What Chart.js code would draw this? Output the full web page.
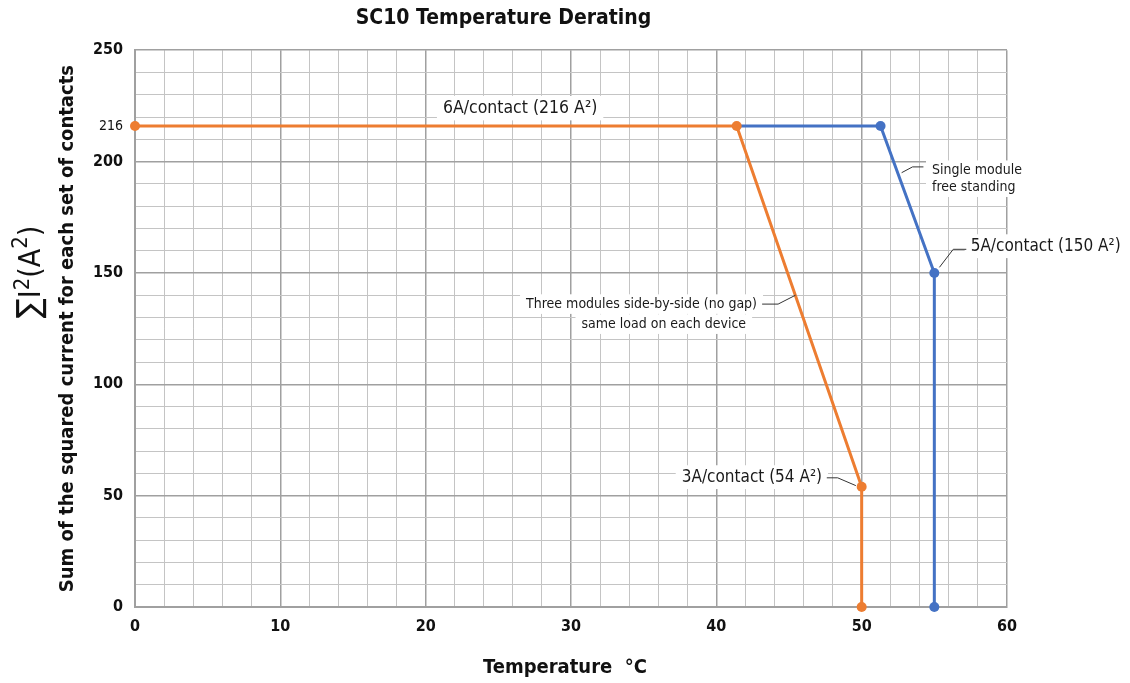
<!DOCTYPE html>
<html lang="en">
<head>
<meta charset="UTF-8" />
<title>SC10 Temperature Derating</title>
<style>
  body { margin: 0; background: #ffffff; }
  #wrap { width: 1130px; height: 683px; }
</style>
<script src="https://cdn.jsdelivr.net/npm/chart.js"></script>
</head>
<body>
<div id="wrap"><canvas id="derating"></canvas></div>
<script>
const FONT = "'Liberation Sans Narrow', 'Arial Narrow', 'DejaVu Sans Condensed', sans-serif";

// temperature (°C) vs sum of I² (A²)
const threeModTemp = [0, 41.4, 50, 50];
const threeModLoad = [216, 216, 54, 0];
const singleModTemp = [41.4, 51.3, 55, 55];
const singleModLoad = [216, 216, 150, 0];

const yLabelTicks = [0, 50, 100, 150, 200, 250];
const extraTick = 216;

// callouts, anchored in data units
const notes = [
  { lines: ['6A/contact (216 A²)'], x: [26.5], y: [224], align: 'center', size: 17.5, leader: [] },
  { lines: ['Single module', 'free standing'], x: [54.84, 54.84], y: [196.1, 188.5], align: 'left', size: 14,
    leader: [[52.75, 195], [53.5, 197.6], [54.25, 197.6]] },
  { lines: ['5A/contact (150 A²)'], x: [57.5], y: [162], align: 'left', size: 17,
    leader: [[55.35, 152.5], [56.3, 160.6], [57.2, 160.6]] },
  { lines: ['Three modules side-by-side (no gap)', 'same load on each device'], x: [42.8, 42.05], y: [136, 127], align: 'right', size: 14,
    leader: [[43.15, 136], [44.25, 136], [45.45, 140]] },
  { lines: ['3A/contact (54 A²)'], x: [47.27], y: [58.3], align: 'right', size: 17,
    leader: [[47.6, 58], [48.35, 58], [49.6, 54.5]] }
];

// pieces of the Σ I²(A²) axis label: text, size, raise
const sigmaLabel = [['∑', 33, 0], ['I', 30, 0], ['2', 22, 11], ['(A', 30, 0], ['2', 22, 13], [')', 30, 0]];

const toPts = (xs, ys) => xs.map((x, i) => ({ x: x, y: ys[i] }));

const notesPlugin = {
  id: 'notes',
  afterDatasetsDraw(chart) {
    const { ctx, scales: { x, y } } = chart;
    ctx.save();
    notes.forEach(n => {
      ctx.font = n.size + 'px ' + FONT;
      ctx.textAlign = n.align;
      ctx.textBaseline = 'middle';
      // white box behind the text
      n.lines.forEach((t, i) => {
        const px = x.getPixelForValue(n.x[i]);
        const py = y.getPixelForValue(n.y[i]);
        const w = ctx.measureText(t).width;
        let left = px;
        if (n.align === 'center') left = px - w / 2;
        if (n.align === 'right') left = px - w;
        ctx.fillStyle = '#ffffff';
        ctx.fillRect(left - 6, py - n.size * 0.7, w + 12, n.size * 1.4);
      });
      n.lines.forEach((t, i) => {
        ctx.fillStyle = '#1a1a1a';
        ctx.fillText(t, x.getPixelForValue(n.x[i]), y.getPixelForValue(n.y[i]));
      });
      if (n.leader.length) {
        ctx.strokeStyle = '#333333';
        ctx.lineWidth = 1;
        ctx.beginPath();
        n.leader.forEach((p, i) => {
          const px = x.getPixelForValue(p[0]), py = y.getPixelForValue(p[1]);
          if (i === 0) ctx.moveTo(px, py); else ctx.lineTo(px, py);
        });
        ctx.stroke();
      }
    });
    ctx.restore();
  },
  afterDraw(chart) {
    const { ctx, chartArea } = chart;
    const midY = (chartArea.top + chartArea.bottom) / 2;
    ctx.save();
    ctx.fillStyle = '#111111';
    ctx.textAlign = 'center';
    ctx.textBaseline = 'middle';
    ctx.font = 'bold 20px ' + FONT;
    ctx.fillText('Temperature  °C', 565, 668);

    ctx.translate(68, midY);
    ctx.rotate(-Math.PI / 2);
    ctx.font = 'bold 20px ' + FONT;
    ctx.fillText('Sum of the squared current for each set of contacts', 0, 0);
    ctx.restore();

    // Σ I²(A²) with real superscripts
    ctx.save();
    ctx.fillStyle = '#111111';
    ctx.translate(40, 272);
    ctx.rotate(-Math.PI / 2);
    ctx.textAlign = 'left';
    ctx.textBaseline = 'alphabetic';
    let total = 0;
    sigmaLabel.forEach(p => { ctx.font = p[1] + 'px ' + FONT; total += ctx.measureText(p[0]).width; });
    let cx = -total / 2;
    sigmaLabel.forEach(p => {
      ctx.font = p[1] + 'px ' + FONT;
      ctx.fillText(p[0], cx, -p[2]);
      cx += ctx.measureText(p[0]).width;
    });
    ctx.restore();
  }
};

new Chart(document.getElementById('derating'), {
  type: 'line',
  data: {
    datasets: [
      {
        label: 'Three modules side-by-side (no gap)',
        data: toPts(threeModTemp, threeModLoad),
        borderColor: '#ed7d31',
        backgroundColor: '#ed7d31',
        borderWidth: 3,
        pointRadius: 5,
        pointBorderWidth: 0,
        tension: 0,
        clip: false
      },
      {
        label: 'Single module free standing',
        data: toPts(singleModTemp, singleModLoad),
        borderColor: '#4472c4',
        backgroundColor: '#4472c4',
        borderWidth: 3,
        pointRadius: [0, 5, 5, 5],
        pointBorderWidth: 0,
        tension: 0,
        clip: false
      }
    ]
  },
  options: {
    responsive: true,
    maintainAspectRatio: false,
    animation: false,
    layout: { padding: { left: 0, right: 123, top: 0, bottom: 0 } },
    plugins: {
      legend: { display: false },
      tooltip: { enabled: false },
      title: {
        display: true,
        text: 'SC10 Temperature Derating',
        color: '#111111',
        font: { family: FONT, size: 21, weight: 'bold' },
        padding: { top: 6, bottom: 19 }
      }
    },
    scales: {
      x: {
        type: 'linear',
        min: 0,
        max: 60,
        afterFit: s => { s.height = 76; },
        ticks: {
          stepSize: 2,
          autoSkip: false,
          maxRotation: 0,
          padding: 10,
          color: '#111111',
          font: { family: FONT, size: 16, weight: 'bold' },
          callback: v => (v % 10 === 0 ? v : '')
        },
        grid: {
          drawTicks: false,
          color: c => (c.tick && c.tick.value % 10 === 0 ? '#a0a0a0' : '#c4c4c4'),
          lineWidth: c => (c.tick && c.tick.value % 10 === 0 ? 1.5 : 1)
        },
        border: { color: '#a0a0a0', width: 2 }
      },
      y: {
        type: 'linear',
        min: 0,
        max: 250,
        afterFit: s => { s.width = 135; },
        afterBuildTicks: s => {
          s.ticks.push({ value: extraTick });
          s.ticks.sort((a, b) => a.value - b.value);
        },
        ticks: {
          stepSize: 10,
          autoSkip: false,
          padding: 12,
          color: '#111111',
          font: c => (c.tick && c.tick.value === extraTick
            ? { family: FONT, size: 14, weight: 'normal' }
            : { family: FONT, size: 16, weight: 'bold' }),
          callback: v => (yLabelTicks.includes(v) || v === extraTick ? v : '')
        },
        grid: {
          drawTicks: false,
          color: c => {
            if (!c.tick) return '#c4c4c4';
            if (c.tick.value === extraTick) return 'rgba(0,0,0,0)';
            return c.tick.value % 50 === 0 ? '#a0a0a0' : '#c4c4c4';
          },
          lineWidth: c => (c.tick && c.tick.value % 50 === 0 ? 1.5 : 1)
        },
        border: { color: '#a0a0a0', width: 2 }
      }
    }
  },
  plugins: [notesPlugin]
});
</script>
</body>
</html>
